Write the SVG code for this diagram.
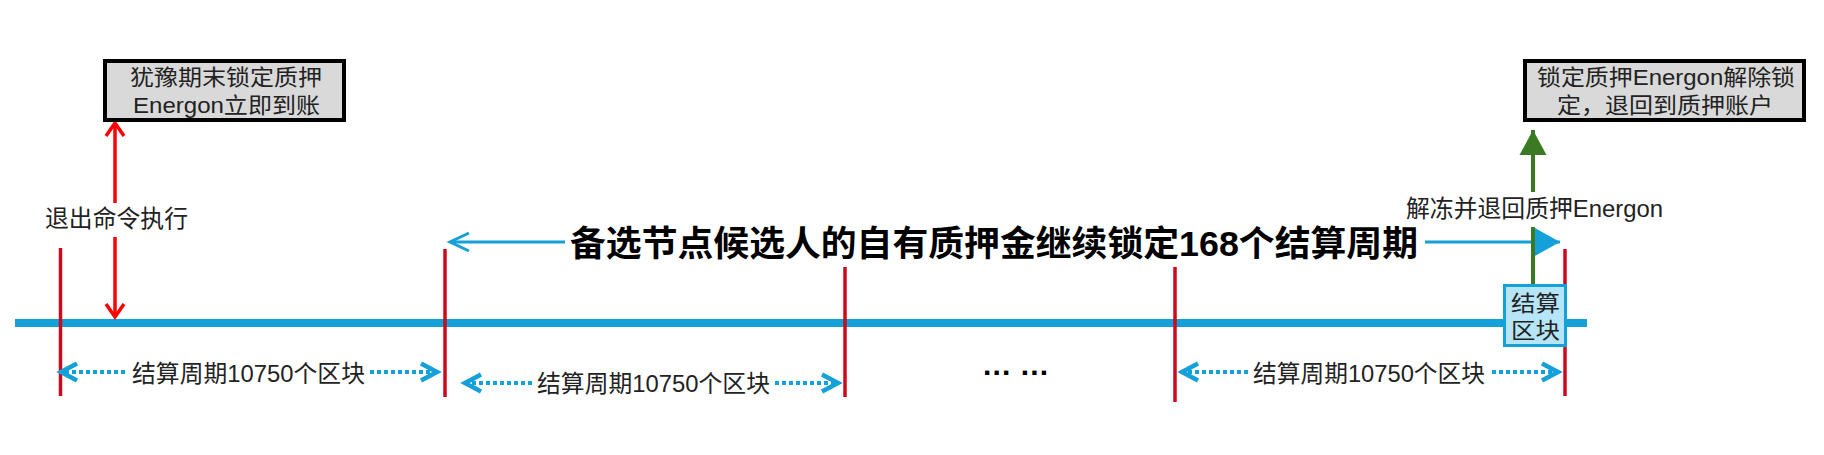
<svg xmlns="http://www.w3.org/2000/svg" width="1824" height="455" viewBox="0 0 1824 455">
  <style>
    .t { font-family: "Liberation Sans", "Noto Sans CJK SC", sans-serif; font-size: 24px; fill: #222; }
    .s { font-size: 22px; }
    .title { font-family: "Liberation Sans", "Noto Sans CJK SC", sans-serif; font-size: 35px; font-weight: bold; fill: #000; }
    .ell { font-family: "Liberation Sans", sans-serif; font-size: 30px; font-weight: bold; fill: #000; }
    .gbox { fill: #d9d9d9; stroke: #000; stroke-width: 4; }
    .bbox { fill: #b5e5f6; stroke: #14a0d8; stroke-width: 3; }
    .tick { stroke: #cc0a1e; stroke-width: 3.5; fill: none; }
    .axis { stroke: #14a0d8; stroke-width: 8; fill: none; }
    .redarrow { stroke: #ff0000; stroke-width: 3.5; fill: none; }
    .greenarrow { stroke: #3b7a23; stroke-width: 4; fill: none; }
    .bluearrow { stroke: #14a0d8; stroke-width: 3; fill: none; }
    .dotted { stroke: #14a0d8; stroke-width: 4; stroke-dasharray: 4 3; fill: none; }
  </style>
  <defs>
    <marker id="m-red" markerUnits="userSpaceOnUse" viewBox="-20 -20 40 40" markerWidth="40" markerHeight="40" refX="0" refY="0" orient="auto" overflow="visible">
      <path d="M-13,-9 L0,0 L-13,9" fill="none" stroke="#ff0000" stroke-width="3.5"/>
    </marker>
    <marker id="m-blue-open" markerUnits="userSpaceOnUse" viewBox="-20 -20 40 40" markerWidth="40" markerHeight="40" refX="0" refY="0" orient="auto" overflow="visible">
      <path d="M-19,-9 L0,0 L-19,9" fill="none" stroke="#14a0d8" stroke-width="3"/>
    </marker>
    <marker id="m-dot-open" markerUnits="userSpaceOnUse" viewBox="-20 -20 40 40" markerWidth="40" markerHeight="40" refX="0" refY="0" orient="auto" overflow="visible">
      <path d="M-12,-8.5 L4,0 L-12,8.5" fill="none" stroke="#14a0d8" stroke-width="4.5"/>
    </marker>
    <marker id="m-blue-tri" markerUnits="userSpaceOnUse" viewBox="-30 -20 40 40" markerWidth="40" markerHeight="40" refX="0" refY="0" orient="auto" overflow="visible">
      <path d="M-26,-14.5 L0,0 L-26,14.5 Z" fill="#14a0d8"/>
    </marker>
    <marker id="m-green-tri" markerUnits="userSpaceOnUse" viewBox="-30 -20 40 40" markerWidth="40" markerHeight="40" refX="0" refY="0" orient="auto" overflow="visible">
      <path d="M-25,-13.5 L0,0 L-25,13.5 Z" fill="#3b7a23"/>
    </marker>
  </defs>

  <g id="timeline">
    <line class="axis" x1="15" y1="323" x2="1587" y2="323"/>
    <line class="tick" x1="60.5" y1="248" x2="60.5" y2="396"/>
    <line class="tick" x1="445" y1="249" x2="445" y2="397"/>
    <line class="tick" x1="845" y1="267" x2="845" y2="397"/>
    <line class="tick" x1="1175" y1="267" x2="1175" y2="402"/>
    <line class="tick" x1="1565" y1="249" x2="1565" y2="396"/>
  </g>

  <g id="connectors">
    <line class="redarrow" x1="115" y1="203" x2="115" y2="123" marker-end="url(#m-red)"/>
    <line class="redarrow" x1="115" y1="237" x2="115" y2="317" marker-end="url(#m-red)"/>
    <line class="bluearrow" x1="565" y1="242" x2="450" y2="242" marker-end="url(#m-blue-open)"/>
    <line class="bluearrow" x1="1425" y1="242" x2="1560" y2="242" marker-end="url(#m-blue-tri)"/>
    <line class="greenarrow" x1="1533" y1="285" x2="1533" y2="227"/>
    <line class="greenarrow" x1="1533" y1="192" x2="1533" y2="130" marker-end="url(#m-green-tri)"/>
    <line class="dotted" x1="125" y1="372" x2="65" y2="372" marker-end="url(#m-dot-open)"/>
    <line class="dotted" x1="370" y1="372" x2="433" y2="372" marker-end="url(#m-dot-open)"/>
    <line class="dotted" x1="532" y1="383" x2="469" y2="383" marker-end="url(#m-dot-open)"/>
    <line class="dotted" x1="775" y1="383" x2="834" y2="383" marker-end="url(#m-dot-open)"/>
    <line class="dotted" x1="1248" y1="372" x2="1186" y2="372" marker-end="url(#m-dot-open)"/>
    <line class="dotted" x1="1492" y1="372" x2="1554" y2="372" marker-end="url(#m-dot-open)"/>
  </g>

  <g id="box-hesitation">
    <rect class="gbox" x="105" y="61" width="239" height="59"/>
    <text class="t s" x="130" y="85" textLength="192" lengthAdjust="spacingAndGlyphs">犹豫期末锁定质押</text>
    <text class="t s" x="133" y="113" textLength="187" lengthAdjust="spacingAndGlyphs">Energon立即到账</text>
  </g>

  <g id="box-unlock">
    <rect class="gbox" x="1525" y="61" width="279" height="59"/>
    <text class="t s" x="1537" y="85" textLength="258" lengthAdjust="spacingAndGlyphs">锁定质押Energon解除锁</text>
    <text class="t s" x="1557" y="113" textLength="216" lengthAdjust="spacingAndGlyphs">定，退回到质押账户</text>
  </g>

  <g id="settle-block">
    <rect class="bbox" x="1504.5" y="285.5" width="61" height="60"/>
    <text class="t s" x="1511" y="311" textLength="49" lengthAdjust="spacingAndGlyphs">结算</text>
    <text class="t s" x="1511" y="338" textLength="49" lengthAdjust="spacingAndGlyphs">区块</text>
  </g>

  <g id="label-exit">
    <text class="t" x="45" y="227" textLength="143" lengthAdjust="spacingAndGlyphs">退出命令执行</text>
  </g>

  <g id="label-release">
    <text class="t" x="1406" y="217" textLength="257" lengthAdjust="spacingAndGlyphs">解冻并退回质押Energon</text>
  </g>

  <g id="label-title">
    <text class="title" x="570" y="256" textLength="848" lengthAdjust="spacingAndGlyphs">备选节点候选人的自有质押金继续锁定168个结算周期</text>
  </g>

  <g id="period-labels">
    <text class="t" x="132" y="382" textLength="233" lengthAdjust="spacingAndGlyphs">结算周期10750个区块</text>
    <text class="t" x="537" y="392" textLength="233" lengthAdjust="spacingAndGlyphs">结算周期10750个区块</text>
    <text class="t" x="1253" y="382" textLength="232" lengthAdjust="spacingAndGlyphs">结算周期10750个区块</text>
    <text class="ell" x="983" y="375" textLength="65" lengthAdjust="spacing">... ...</text>
  </g>
</svg>
